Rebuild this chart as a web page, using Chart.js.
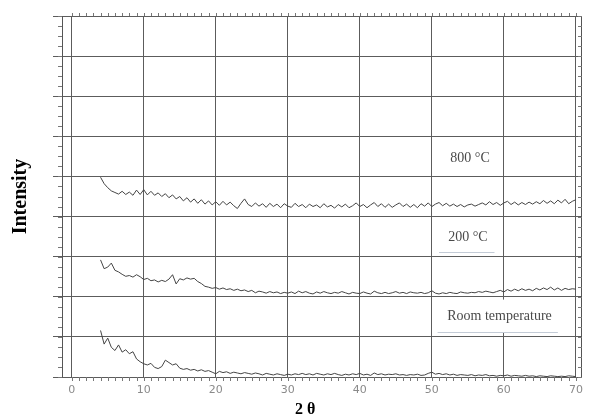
<!DOCTYPE html>
<html><head><meta charset="utf-8">
<script src="https://cdn.jsdelivr.net/npm/chart.js@4.4.0/dist/chart.umd.min.js"></script>
<style>html,body{margin:0;padding:0;background:#fff}#wrap{width:592px;height:419px}</style>
</head><body><div id="wrap"><canvas id="c" width="592" height="419"></canvas></div>
<script>
// 2θ sampling positions (degrees)
const twoTheta = [
4,4.5,5,5.5,6,6.5,7,7.5,8,8.5,
9,9.5,10,10.5,11,11.5,12,12.5,13,13.5,
14,14.5,15,15.5,16,16.5,17,17.5,18,18.5,
19,19.5,20,20.5,21,21.5,22,22.5,23,23.5,
24,24.5,25,25.5,26,26.5,27,27.5,28,28.5,
29,29.5,30,30.5,31,31.5,32,32.5,33,33.5,
34,34.5,35,35.5,36,36.5,37,37.5,38,38.5,
39,39.5,40,40.5,41,41.5,42,42.5,43,43.5,
44,44.5,45,45.5,46,46.5,47,47.5,48,48.5,
49,49.5,50,50.5,51,51.5,52,52.5,53,53.5,
54,54.5,55,55.5,56,56.5,57,57.5,58,58.5,
59,59.5,60,60.5,61,61.5,62,62.5,63,63.5,
64,64.5,65,65.5,66,66.5,67,67.5,68,68.5,
69,69.5,70];

// Intensity (offset, in grid units)
const intensity800C = [
4.98,4.82,4.72,4.64,4.60,4.56,4.63,4.55,4.61,4.53,
4.66,4.55,4.67,4.54,4.63,4.53,4.59,4.50,4.57,4.47,
4.54,4.44,4.50,4.39,4.47,4.36,4.44,4.33,4.42,4.31,
4.39,4.29,4.37,4.28,4.38,4.29,4.36,4.27,4.20,4.33,
4.44,4.30,4.25,4.34,4.26,4.32,4.23,4.33,4.25,4.31,
4.22,4.32,4.26,4.23,4.33,4.25,4.30,4.22,4.31,4.25,
4.29,4.22,4.32,4.24,4.28,4.21,4.30,4.24,4.31,4.22,
4.27,4.34,4.25,4.30,4.22,4.29,4.35,4.25,4.32,4.23,
4.31,4.23,4.29,4.34,4.25,4.31,4.23,4.30,4.22,4.32,
4.26,4.34,4.25,4.31,4.35,4.27,4.33,4.26,4.31,4.25,
4.30,4.24,4.29,4.31,4.26,4.30,4.34,4.29,4.37,4.30,
4.35,4.28,4.34,4.38,4.30,4.36,4.29,4.35,4.30,4.36,
4.31,4.37,4.32,4.40,4.33,4.39,4.32,4.41,4.34,4.43,
4.32,4.38,4.42];

const intensity200C = [
2.92,2.70,2.74,2.84,2.66,2.62,2.56,2.51,2.53,2.49,
2.55,2.50,2.43,2.46,2.40,2.42,2.37,2.41,2.38,2.44,
2.55,2.32,2.45,2.42,2.47,2.44,2.46,2.38,2.33,2.26,
2.24,2.21,2.23,2.19,2.22,2.18,2.20,2.16,2.19,2.15,
2.17,2.13,2.16,2.10,2.14,2.12,2.09,2.13,2.10,2.12,
2.08,2.11,2.09,2.12,2.08,2.14,2.10,2.13,2.09,2.07,
2.12,2.09,2.13,2.10,2.08,2.11,2.09,2.13,2.10,2.07,
2.11,2.09,2.08,2.12,2.09,2.07,2.14,2.10,2.08,2.11,
2.08,2.10,2.13,2.09,2.11,2.08,2.12,2.10,2.09,2.11,
2.08,2.10,2.15,2.09,2.07,2.10,2.08,2.11,2.09,2.08,
2.12,2.10,2.09,2.11,2.10,2.13,2.11,2.14,2.12,2.10,
2.13,2.16,2.12,2.18,2.14,2.19,2.15,2.20,2.16,2.19,
2.15,2.21,2.17,2.22,2.18,2.24,2.17,2.22,2.16,2.21,
2.18,2.20,2.19];

const intensityRoomT = [
1.16,0.82,0.97,0.74,0.66,0.80,0.62,0.68,0.58,0.63,
0.45,0.38,0.33,0.30,0.34,0.24,0.21,0.26,0.42,0.36,
0.30,0.33,0.22,0.19,0.21,0.17,0.19,0.15,0.18,0.14,
0.16,0.12,0.08,0.14,0.11,0.13,0.09,0.12,0.10,0.08,
0.11,0.09,0.07,0.10,0.08,0.05,0.09,0.07,0.05,0.08,
0.06,0.04,0.07,0.05,0.08,0.06,0.09,0.06,0.08,0.05,
0.09,0.07,0.05,0.08,0.06,0.09,0.06,0.04,0.07,0.05,
0.08,0.06,0.09,0.05,0.07,0.04,0.10,0.06,0.08,0.05,
0.07,0.06,0.08,0.05,0.06,0.04,0.06,0.05,0.07,0.04,
0.05,0.09,0.12,0.07,0.09,0.06,0.08,0.05,0.07,0.04,
0.06,0.05,0.04,0.06,0.03,0.05,0.04,0.06,0.03,0.04,
0.02,0.04,0.03,0.05,0.02,0.04,0.03,0.02,0.04,0.02,
0.03,0.01,0.03,0.02,0.01,0.03,0.02,0.01,0.02,0.01,
0.03,0.02,0.01];

const xTickValues = [0,10,20,30,40,50,60,70];
const yGridValues = [0,1,2,3,4,5,6,7,8,9];
const seriesNames = ['Room temperature','200 °C','800 °C'];
const xTitle = '2 θ';
const yTitle = 'Intensity';

const toPoints = vals => twoTheta.map((x, i) => ({x: x, y: vals[i]}));
const lineStyle = {borderColor:'#444444', borderWidth:1, pointRadius:0, tension:0, fill:false};

const decor = {
  id: 'decor',
  beforeDatasetsDraw(chart) {
    const {ctx, scales: {x, y}} = chart;
    ctx.save();
    ctx.fillStyle = '#fff';
    const box = (x0, x1, y0, y1) => {
      const px0 = x.getPixelForValue(x0), px1 = x.getPixelForValue(x1);
      const py0 = y.getPixelForValue(y1), py1 = y.getPixelForValue(y0);
      ctx.fillRect(px0, py0, px1 - px0, py1 - py0);
    };
    box(50.25, 59.0, 3.12, 3.92);
    box(50.45, 69.3, 1.10, 1.93);
    // faint underlines
    ctx.strokeStyle = '#c3cbd6'; ctx.lineWidth = 1;
    const ul = (x0, x1, yv) => {
      const py = Math.round(y.getPixelForValue(yv)) + 0.5;
      ctx.beginPath(); ctx.moveTo(x.getPixelForValue(x0), py); ctx.lineTo(x.getPixelForValue(x1), py); ctx.stroke();
    };
    ul(51.0, 58.7, 3.12);
    ul(50.8, 67.5, 1.12);
    ctx.restore();
  },
  afterDatasetsDraw(chart) {
    const {ctx, chartArea: a, scales: {x, y}} = chart;
    ctx.save();
    ctx.strokeStyle = '#555'; ctx.lineWidth = 1;
    // left and right frame
    ctx.beginPath();
    ctx.moveTo(a.left + 0.5, a.top); ctx.lineTo(a.left + 0.5, a.bottom);
    ctx.moveTo(a.right - 0.5, a.top); ctx.lineTo(a.right - 0.5, a.bottom);
    ctx.stroke();
    // minor ticks
    ctx.strokeStyle = '#777';
    ctx.beginPath();
    for (let v = 0; v <= 70; v += 1) {
      const px = Math.round(x.getPixelForValue(v)) + 0.5;
      ctx.moveTo(px, a.bottom); ctx.lineTo(px, a.bottom + 4);
      ctx.moveTo(px, a.top); ctx.lineTo(px, a.top - 3);
    }
    for (let v = 0; v <= 9; v += 0.25) {
      const py = Math.round(y.getPixelForValue(v)) + 0.5;
      ctx.moveTo(a.left, py); ctx.lineTo(a.left - 4, py);
      ctx.moveTo(a.right, py); ctx.lineTo(a.right - 4, py);
    }
    ctx.stroke();
    // series labels
    ctx.fillStyle = '#4a4a4a';
    ctx.font = '14px "Liberation Serif"';
    ctx.textAlign = 'center'; ctx.textBaseline = 'middle';
    ctx.fillText(seriesNames[2], x.getPixelForValue(55.3), y.getPixelForValue(5.46));
    ctx.fillText(seriesNames[1], x.getPixelForValue(55.0), y.getPixelForValue(3.49));
    ctx.fillText(seriesNames[0], x.getPixelForValue(59.4), y.getPixelForValue(1.52));
    // x axis title
    ctx.fillStyle = '#000';
    ctx.font = 'bold 16px "Liberation Serif"';
    ctx.fillText(xTitle, x.getPixelForValue(32.4), 410);
    ctx.restore();
  }
};

new Chart(document.getElementById('c'), {
  type: 'line',
  data: {
    datasets: [
      Object.assign({label: seriesNames[0], data: toPoints(intensityRoomT)}, lineStyle),
      Object.assign({label: seriesNames[1], data: toPoints(intensity200C)}, lineStyle),
      Object.assign({label: seriesNames[2], data: toPoints(intensity800C)}, lineStyle)
    ]
  },
  options: {
    responsive: false,
    animation: false,
    events: [],
    layout: {padding: {top: 16, right: 10, left: 0, bottom: 0}},
    plugins: {legend: {display: false}, tooltip: {enabled: false}},
    scales: {
      x: {
        type: 'linear', min: -1.35, max: 70.85,
        afterBuildTicks: s => { s.ticks = xTickValues.map(v => ({value: v})); },
        afterFit: s => { s.height = 42; },
        grid: {color: '#5c5c5c', drawTicks: false},
        border: {display: false},
        ticks: {padding: 7, color: '#8a8a8a', font: {family: 'DejaVu Sans', size: 11}, maxRotation: 0, autoSkip: false}
      },
      y: {
        type: 'linear', min: 0, max: 9,
        afterBuildTicks: s => { s.ticks = yGridValues.map(v => ({value: v})); },
        afterFit: s => { s.width = 62; },
        grid: {color: '#5c5c5c', drawTicks: true, tickLength: 9},
        border: {display: false},
        ticks: {display: false},
        title: {display: true, text: yTitle, color: '#000', font: {family: 'Liberation Serif', size: 20, weight: 'bold'}, padding: {top: 9, bottom: 0}}
      }
    }
  },
  plugins: [decor]
});
</script>
</body></html>
